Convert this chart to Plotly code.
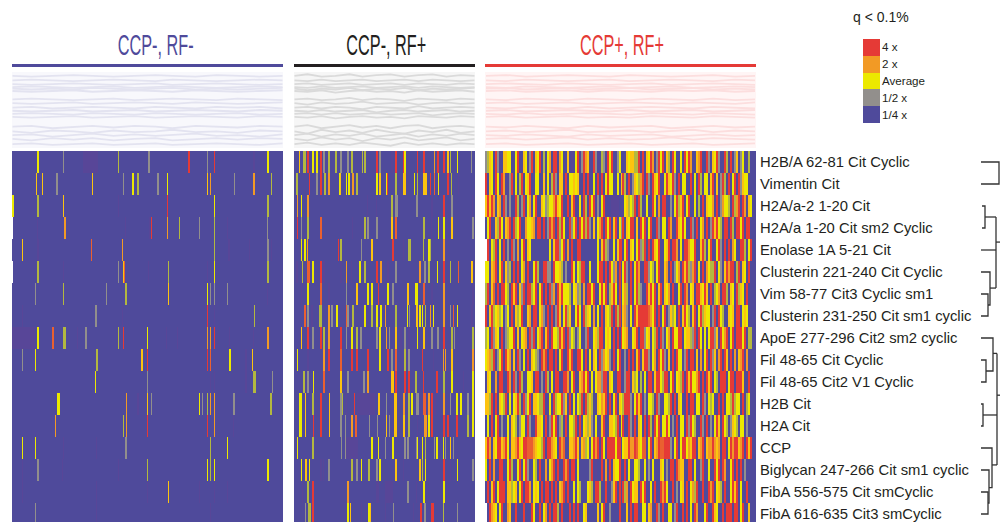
import re
import plotly.graph_objects as go

PANEL_TITLES = ["CCP-, RF-", "CCP-, RF+", "CCP+, RF+"]
PANEL_COLORS = ["#4f4a9b", "#231f20", "#e53a36"]
TITLE_ANCHORS = [0.528, 0.511, 0.5055]
ROW_LABELS = ["H2B/A 62-81 Cit Cyclic", "Vimentin Cit", "H2A/a-2 1-20 Cit", "H2A/a 1-20 Cit sm2 Cyclic",
              "Enolase 1A 5-21 Cit", "Clusterin 221-240 Cit Cyclic", "Vim 58-77 Cit3 Cyclic sm1",
              "Clusterin 231-250 Cit sm1 cyclic", "ApoE 277-296 Cit2 sm2 cyclic", "Fil 48-65 Cit Cyclic",
              "Fil 48-65 Cit2 V1 Cyclic", "H2B Cit", "H2A Cit", "CCP", "Biglycan 247-266 Cit sm1 cyclic",
              "FibA 556-575 Cit smCyclic", "FibA 616-635 Cit3 smCyclic"]
LEGEND_LABELS = ["1/4 x", "1/2 x", "Average", "2 x", "4 x"]
LEGEND_VALUES = [-2, -1, 0, 1, 2]

# log2 level of each code letter
LEVELS = {"b": -2, "p": -1.8, "g": -1, "l": -0.4, "y": 0, "a": 0.5, "o": 1, "e": 1.5, "r": 2, "w": None}
SCALE = [[0, "#4f4a9b"], [0.05, "#584698"], [0.25, "#928f8c"], [0.4, "#b3b83f"], [0.5, "#ece900"],
         [0.625, "#fcc30f"], [0.75, "#f29a25"], [0.875, "#ea6030"], [1, "#e53a36"]]

N1, N2, N3 = 271, 181, 136

# panel 1 & 2: sample index, level letter, run length
P1_STRIPES = [
    "71p15 25y2 51g1 106l1 136g2 176r2 195g1 202r1 241p2 255y2",
    "24a1 30a1 44g2 80a1 111g1 120y2 125l2 145g2 155y1 195a1 198o1 222g1 241o2 259l1",
    "0y2 25l2 51a1 106p1 155r1 202y1 255l2",
    "0w1 25p1 52o2 113p1 137p1 139r1 155o1 167l1 187g1 198p1 202l1 215p1 255g1",
    "10a1 25p2 79e1 110o1 202l1 216p2 237p1 255g2 259p1",
    "0w1 25l2 51p1 106g1 111a1 112e1 136p1 156l1 195p1 202y1 255l2",
    "23g1 51l1 94g1 113l2 156a1 195y1 198g1 202g1 215g1 255p1",
    "10p1 83g2 110p1 195r1 202p1 242l1",
    "0p23 25y2 40e2 51l3 65p1 73g2 106l1 111r1 135y1 154p1 165p1 195o1 198o1 202r1 217p1 241p1 255o2",
    "10g1 23y1 84l2 129a2 135r1 195r1 198e1 217y2 233p2 240a1",
    "83y1 135g1 198p1 202p1 233p2 241l3 260g1",
    "45y3 114o1 125p2 135a1 139g1 187y1 190g1 195l1 198o1 202o1 221g2 258l2",
    "43o1 111l1 114o1 135r1 195r1 202o1 221p1",
    "10y1 23y1 51p1 84p1 113g2 198l1 215y1",
    "10p1 25g2 50p1 106p1 135l1 195y1 198l1 202y1 255y2",
    "10p1 84p1 135p1 156a1 187p1 202p1 215p1",
    "23g1 84p1 198p1",
]
P2_STRIPES = [
    "5a1 9l3 13r2 18y2 22y2 26r2 29g2 34l2 41l2 46g2 53g2 57l2 68l1 70l2 82r2 85g2 97p2 101r2 109r1 110y2 123r1 129r2 140o1 143r2 149r2 153a2 156l1 163y1 177g1",
    "2l2 15r1 22g2 26r2 30l2 34o2 45y2 46a1 52y1 54y2 58o2 62l2 82y2 85a2 92y1 93r1 101l2 109a3 120y1 123l1 129a4 136r1 140e1 144y1 153r2 157l1 164p1",
    "3o1 7y1 13o2 73p1 82p1 97l2 101g3 122g2 137p2 149r2 157g2 178p1",
    "3r1 7g1 13l2 26e2 58p1 70l2 73g2 82g2 97a2 101e2 129l2 137p1 144y1 149y2 157a2 178g2",
    "7y1 10y2 13o1 44r1 46l2 67g1 77a2 98r2 109p1 114l3 129l1 134y2 136l1 149o2",
    "2p2 8l1 13e3 18y2 26r2 29p2 46p2 52o1 57p1 65y2 70l2 82r2 86o2 93p2 101g2 125o2 130g2 134l2 143y1 149r2 156l1 164e1 177a2",
    "7p1 13y2 26e2 34p2 52g1 62a2 73y2 77y2 84r1 93y2 98g2 113a2 121y3 129e2 137p2 149o2 178p2",
    "10e2 13g2 17p2 25l3 34o2 37g2 42y2 52e1 53g2 58l2 70y2 77l2 82y2 86y2 91o1 101l2 113y1 115g1 122a2 125y2 128y1 131l1 136o1 139y1 149o2 156g1 159e1 163y1 177p2",
    "7a1 13r2 18g2 26r2 29l2 34o2 46r2 52g1 57y2 62l2 66g2 82g2 85y2 92o1 95g1 101a2 106p2 110g2 114p2 123y1 129a2 137g2 143g2 149r2 157l2 160g1 178l2",
    "3y1 13p2 29o2 34r2 46e2 57r2 62r2 73r2 85y2 93r2 97g2 101e2 110l2 114g2 128r1 139p1 149o1 151o1 157a2 178o2",
    "9l2 13g2 19y1 29e2 34p2 46a2 53g2 69g2 73o2 97a3 101r2 110r2 114r2 121l2 129r1 142r2 149l2 157y2 169p1 178y2",
    "5y3 11a1 18l2 26r2 35a1 46g2 48l1 52p1 60r1 63p18 84a2 92g1 100a3 109o2 114l2 117y2 122g3 129e3 134o2 137r2 140p2 149o2 156g1 162y2 166y2 173g2 178y2",
    "5y3 11a1 19r1 26r2 35a1 46g2 51g1 57o2 61e2 75g1 83g1 92a1 95g1 100a3 109a2 114l2 123p1 130o3 134y2 137r2 149r2 153r2 162r2 173l2 178y2",
    "3y1 18l2 47g1 51g1 52p12 77y2 84y1 91g1 98y2 110g2 113g2 122g2 123y1 128y1 131l1 140g1 142y2 149y1 151g1 156a1 159g1",
    "7y1 11a2 15y1 26p2 29p1 34g2 57l2 62g2 67y1 74l2 82g2 85y2 101a2 109p1 125a2 128l1 131y1 149r2 156p1 163y1 178g2",
    "8p1 13l2 18r2 53o2 82p3 91p8 113g2 122p1 129y2 149y2",
    "11g1 14l3 18r2 53y2 56a1 67p1 74y2 76a1 91p1 99g1 119p1 126r2 130g2 137r3 149l1 163g1",
]
# panel 3: one letter per sample
P3_ROWS = [
    "glaybrgbbaayybbyrbbaybgrbayrblbyobrrboybbabpbyrbgroabbrgbblgbryrbbgybbbayaallrbrbayrobgryrbalbrybbybryrobbaorbbrgbayrgbbrlbrbgabgybbl",
    "rbaybrybrobbgrbyblrbyarbbyybbabyblrgbaabrbyyayabbrbrbbybrbrbyryybbybarlbrbgaylorbrgbrayrbbyrayrgbrbyybbrbybrlbyybarbabgrlbrbyrbrgayyb",
    "ararobaobrgbgbbrlbgrbyobyrbbayglyyorayrbbrbarbbybrlbryrbgbyrbbbppppbbbyalylrbrlbbybbrybobrrbbgbyrlarbyrbbyblbrbayyobrbgoyylbrlorbrobay",
    "byrbbalrybaorbrlyrbboyyaobrrbrbgrorbrlrybbrgyrbryrlrgbabyorbryrbarbygrbayrrbabryrbyrbbrgbyybrobbrayrybbrgbrbyobrbgrarylbrrbrlbrryrbrrb",
    "wrbylrbybrbgbrgbobyrbaybbbbbbbbbybarrgyrbobrbbrrbbbbbbbbybarlgbbybarrbyrbaybyrglrbrbrayrbbyarbrrobybrroyyrbbarlbyrbbyrgbrbrboybbrrlbyr",
    "yybaorbyrbaglbrbrbyobrbbyrlbbrrggbryyalbgbbrybylrrbbybbbyrrbrbrygobrbyrgbrbyrobbrrgylbyrbbaobrbgyobrarlgorbybrboyllrbygbarorrblrbaybrb",
    "lrbaebrbrrylbrarbagrbrrlyrbyrbrbrgobraryyylbyaglbobrryrbbyryrblarybrbyolbrbyrlgbbraryrbarbayobrbbyrbrobyabrrayrabrblyobrrlbaybrlaybrbb",
    "rbarlyalybgybrbalyrbbaobrrbyogbrbrbgrabyrlabbyrybrlaybobybrbaylrbrlrbaogbybrarrrrreoyrbrbyrbgalybrbarylbarbyrlayybgrbrylbbayabrrbyaybb",
    "lybrgaybrbglyyrbabyaobrgrbyorbarbryylrarbrgylbgybbgrbbyalrrbyaybrbrbryaobbyarbrrgyabylrbrgbyobryyrrbyaalgrbrybybyrrgabryorbyrbrrryrbll",
    "yaolrbgyrbraobabrgbybrbaylgbrorbrrbrbyrbbrarbbrrybrbybaybrgoyagbrbyrbbgbrbrbarbarrgbyobryrgbabrbryybgrbrrbabobyrbrgaborbrabrbobaorbob",
    "baybbobrrbbrobrgbrlbbyyabrrbgbrlbybrrbbrrobyrbbaoryrbybyoogrrbaybbrrbbgrrbalyblbybrrbarrylrrbyrbyalrbraryyorbrbrarbylbrrrbyrrbrrrabbrb",
    "aalrbrbaylrbybyarlbrgyrbaayllrbbybrlyyrgabrbybylrbrlalbbayoarbrbyrbaylrrrgbyrarbgbyylbrgbbyylrbrbaybbrbrrbyybrgbylybbrbrbyylrlyybrblyb",
    "bybrbyrbgbbybaylbgyybrgbbraaybrbgryrbglbrbyylrbrbyalagbybbarbbaaylrbyrbbrgbrbaybrbrlbryrbyyrybgbrbyybrgrylbbrgbrbgbyrabrylbgaylbyybgb",
    "arobayrraorybaaorayrreeeoayylrbrroaybroebbaaorabaolybyrorbrybrrrryrrbyaarooreayeebyrbaoreerrrgbyrbyrryoarrbaorbaooroaobrrbyrorraorbrar",
    "ybrbobbrrbbyrlbbyrbyrgbbylbrbbobyorbrbbrorbrrbybbbbbgrbpbbrbobrbayyrbbrbybbyylbbybgbybbbaybgbrrbroaabbrrbybbgrbbybbryrbrobbyrbrbrbgbbb",
    "brbarbyrrrbaalyabyrbrrobyaybrbrrbrbrbaorbrbbybylbbbyalbrrlbbrbbgarbrbrlobryaabryrbbybrbbrorybbrbgbyabrbyolrbbrbbrorbyalbrbbyrarbybbrbb",
    "wbroaybyrbboabbrbbbrbbbrybbrbyobrbrrlbrbbbrbrbrbbyabbbbbabyrbbgbbbbrbbbabrbrrbbyybaobbrgbrbbyybgrbbrbrbybrobbbyrbbraybbrbrrrbrrbyrbbab",
]

# profile lines above each heat map (arbitrary profile scale, 0 top to 100 bottom)
SPARK_X1 = [0, 19, 40, 61, 80, 101, 122, 143, 160, 183, 204, 225, 247, 270]
SPARK_X2 = [0, 13, 27, 41, 55, 68, 82, 96, 110, 124, 138, 152, 166, 180]
SPARK_X3 = [0, 10, 20, 30, 41, 51, 62, 72, 83, 93, 104, 114, 125, 135]
SPARK1 = [
    [5, 6, 5, 4, 5, 6, 5, 4, 5, 6, 4, 5, 6, 5], [11, 10, 11, 12, 11, 10, 11, 12, 10, 11, 12, 11, 10, 11],
    [16, 17, 16, 15, 16, 17, 16, 15, 17, 16, 15, 16, 17, 16], [20, 19, 20, 21, 20, 19, 21, 20, 19, 20, 21, 20, 19, 20],
    [22, 23, 22, 23, 21, 22, 23, 22, 21, 23, 22, 23, 22, 21], [25, 26, 25, 24, 26, 25, 24, 25, 26, 24, 25, 26, 25, 24],
    [36, 35, 36, 37, 36, 35, 37, 36, 35, 36, 37, 35, 36, 37], [41, 42, 41, 40, 42, 41, 40, 41, 42, 40, 41, 42, 41, 40],
    [47, 46, 48, 47, 46, 47, 48, 46, 47, 48, 46, 47, 46, 48], [51, 52, 51, 50, 52, 51, 50, 52, 51, 50, 51, 52, 50, 51],
    [55, 54, 55, 56, 54, 55, 56, 54, 55, 56, 55, 54, 56, 55], [59, 60, 59, 58, 60, 59, 58, 60, 59, 58, 59, 60, 58, 59],
    [72, 71, 74, 72, 71, 73, 71, 72, 74, 71, 72, 73, 71, 72], [78, 80, 77, 78, 80, 77, 79, 78, 76, 79, 78, 80, 77, 78],
    [83, 82, 85, 83, 81, 84, 82, 84, 83, 81, 84, 83, 85, 82], [88, 90, 87, 89, 87, 90, 88, 87, 90, 88, 87, 89, 87, 88],
    [95, 94, 96, 95, 94, 96, 95, 94, 96, 95, 94, 95, 96, 94],
]
SPARK2 = [
    [5, 3, 6, 5, 3, 6, 4, 3, 6, 4, 3, 6, 4, 5], [11, 12, 10, 12, 11, 10, 12, 11, 10, 12, 10, 11, 12, 11],
    [16, 15, 17, 16, 15, 17, 16, 15, 17, 15, 16, 17, 15, 16], [20, 21, 19, 21, 20, 19, 21, 20, 19, 21, 19, 20, 21, 20],
    [22, 24, 22, 23, 21, 24, 22, 23, 21, 24, 22, 23, 22, 21], [25, 26, 24, 27, 25, 24, 26, 25, 27, 24, 26, 25, 24, 26],
    [36, 35, 37, 36, 34, 37, 35, 36, 38, 35, 36, 37, 35, 36], [41, 43, 40, 42, 41, 39, 42, 41, 40, 43, 41, 40, 42, 41],
    [47, 46, 48, 46, 47, 49, 46, 47, 48, 45, 48, 47, 46, 47], [51, 52, 50, 52, 51, 50, 53, 51, 50, 52, 51, 50, 52, 51],
    [55, 54, 56, 54, 56, 55, 54, 56, 55, 54, 57, 55, 54, 55], [59, 60, 58, 61, 59, 58, 60, 59, 61, 58, 59, 60, 58, 59],
    [72, 70, 74, 72, 70, 73, 71, 74, 71, 70, 74, 72, 71, 73], [78, 81, 76, 79, 77, 80, 76, 79, 81, 77, 79, 76, 80, 78],
    [83, 81, 85, 82, 84, 81, 85, 83, 81, 85, 82, 84, 81, 83], [88, 90, 86, 89, 87, 91, 87, 89, 86, 90, 88, 86, 90, 88],
    [95, 93, 96, 94, 96, 93, 95, 97, 93, 96, 94, 96, 94, 95],
]
SPARK3 = [
    [5, 4, 6, 5, 4, 5, 6, 4, 5, 6, 5, 4, 6, 5], [11, 12, 10, 11, 12, 11, 10, 12, 11, 10, 11, 12, 10, 11],
    [16, 15, 16, 17, 15, 16, 17, 16, 15, 17, 16, 15, 16, 17], [20, 21, 19, 20, 21, 20, 19, 21, 20, 19, 21, 20, 19, 20],
    [22, 21, 23, 22, 21, 23, 22, 21, 23, 22, 21, 23, 22, 23], [25, 24, 26, 25, 24, 26, 24, 25, 26, 24, 25, 24, 26, 25],
    [36, 37, 35, 36, 37, 35, 36, 37, 35, 36, 37, 35, 37, 36], [41, 40, 42, 41, 40, 42, 41, 40, 41, 42, 40, 41, 42, 40],
    [47, 48, 46, 47, 48, 46, 48, 47, 46, 47, 48, 46, 47, 48], [51, 50, 52, 51, 50, 51, 52, 50, 52, 51, 50, 52, 51, 50],
    [55, 56, 54, 56, 55, 54, 55, 56, 54, 55, 56, 54, 55, 56], [59, 58, 60, 59, 58, 60, 59, 60, 58, 59, 60, 58, 59, 60],
    [72, 73, 71, 72, 74, 71, 73, 72, 71, 74, 72, 71, 73, 72], [78, 77, 79, 78, 76, 79, 78, 77, 79, 78, 76, 79, 77, 78],
    [83, 84, 82, 83, 85, 82, 84, 83, 82, 85, 83, 82, 84, 83], [88, 87, 89, 88, 86, 89, 87, 89, 88, 86, 89, 87, 88, 89],
    [95, 94, 96, 95, 94, 96, 95, 94, 96, 95, 94, 96, 95, 94],
]
SPARK_LINE = ["#e3e3f0", "#dadada", "#fcdede"]
SPARK_BG = ["#f8f8fc", "#f6f6f6", "#fff5f5"]

# dendrogram: merge distance (left to right) and row position
DEND_X = [0, 18, 18, 0, None,
          1, 4, 4, 1, None, 4, 15, None, 0, 15, None, 15, 15, None, 15, 19, None, 9, 15, None,
          0, 9, 9, 7, None, 0, 7, 7, 0, None,
          0, 12, 12, 5, None, 0, 5, 5, 0, None, 12, 16, None, 16, 16, None, 16, 19, None,
          0, 2, 2, 0, None, 2, 16, None, 0, 11, 11, 8, None, 11, 16, None,
          0, 8, 8, 7, None, 0, 7, 7, 0]
DEND_Y = [0, 0, 1, 1, None,
          2, 2, 3, 3, None, 2.5, 2.5, None, 4, 4, None, 2.5, 5.73, None, 3.64, 3.64, None, 5.73, 5.73, None,
          5, 5, 6.5, 6.5, None, 6, 6, 7, 7, None,
          8, 8, 9.5, 9.5, None, 9, 9, 10, 10, None, 8.7, 8.7, None, 8.7, 13.77, None, 10.6, 10.6, None,
          11, 11, 12, 12, None, 11.5, 11.5, None, 13, 13, 14.8, 14.8, None, 13.77, 13.77, None,
          14, 14, 15.5, 15.5, None, 15, 15, 16, 16]


def stripes_to_row(text, n):
    cells = [LEVELS["b"]] * n
    for start, code, run in re.findall(r"(\d+)([a-z])(\d+)", text):
        for i in range(int(start), min(n, int(start) + int(run))):
            cells[i] = LEVELS[code]
    return cells


def letters_to_row(text, n):
    return [LEVELS[c] for c in text.ljust(n, "b")[:n]]


Z1 = [stripes_to_row(t, N1) for t in P1_STRIPES]
Z2 = [stripes_to_row(t, N2) for t in P2_STRIPES]
Z3 = [letters_to_row(t, N3) for t in P3_ROWS]

W, H = 1000, 522


def fx(a, b):
    return [a / W, b / W]


def fy(top, bottom):
    return [1 - bottom / H, 1 - top / H]


fig = go.Figure()
common = dict(colorscale=SCALE, zmin=-2, zmax=2, showscale=False, hoverongaps=False)
rows = list(range(len(ROW_LABELS)))
fig.add_trace(go.Heatmap(z=Z1, y=rows, xaxis="x", yaxis="y", **common))
fig.add_trace(go.Heatmap(z=Z2, y=rows, xaxis="x2", yaxis="y", **common))
fig.add_trace(go.Heatmap(z=Z3, y=rows, xaxis="x3", yaxis="y", **common))

for table, xs, col, ax in [(SPARK1, SPARK_X1, SPARK_LINE[0], "x"), (SPARK2, SPARK_X2, SPARK_LINE[1], "x2"),
                           (SPARK3, SPARK_X3, SPARK_LINE[2], "x3")]:
    for line in table:
        fig.add_trace(go.Scatter(x=xs, y=line, mode="lines", xaxis=ax, yaxis="y2",
                                 line=dict(color=col, width=1.8), showlegend=False, hoverinfo="skip"))

fig.add_trace(go.Scatter(x=DEND_X, y=DEND_Y, mode="lines", xaxis="x4", yaxis="y", connectgaps=False,
                         line=dict(color="#333333", width=1.3), showlegend=False, hoverinfo="skip"))

fig.add_trace(go.Heatmap(z=[[v] for v in LEGEND_VALUES], y=list(range(5)), xaxis="x5", yaxis="y3", **common))

hidden = dict(visible=False, showgrid=False, zeroline=False, fixedrange=True)
layout = dict(
    width=W, height=H, autosize=False, margin=dict(l=0, r=0, t=0, b=0, pad=0),
    paper_bgcolor="white", plot_bgcolor="rgba(0,0,0,0)", showlegend=False,
    font=dict(family="Liberation Sans", color="#231f20"),
    xaxis=dict(domain=fx(12, 283), range=[-0.5, N1 - 0.5], anchor="y", **hidden),
    xaxis2=dict(domain=fx(294, 475), range=[-0.5, N2 - 0.5], anchor="y", **hidden),
    xaxis3=dict(domain=fx(485, 756), range=[-0.5, N3 - 0.5], anchor="y", **hidden),
    xaxis4=dict(domain=fx(981, 1000), range=[0, 19], anchor="y", **hidden),
    xaxis5=dict(domain=fx(863, 880), range=[-0.5, 0.5], anchor="y3", **hidden),
    yaxis=dict(domain=fy(151, 522), range=[16.364, -0.5], anchor="x3", side="right",
               tickmode="array", tickvals=rows, ticktext=ROW_LABELS, ticks="", ticklen=0,
               ticklabelstandoff=3, ticklabeloverflow="allow",
               tickfont=dict(size=14.8, family="Liberation Sans", color="#231f20"),
               showgrid=False, zeroline=False, showline=False, fixedrange=True),
    yaxis2=dict(domain=fy(72, 148), range=[100, 0], anchor="x", **hidden),
    yaxis3=dict(domain=fy(39, 123), range=[-0.5, 4.5], anchor="x5", side="right",
                tickmode="array", tickvals=list(range(5)), ticktext=LEGEND_LABELS, ticks="", ticklen=0,
                ticklabelstandoff=1,
                tickfont=dict(size=11.6, family="Liberation Sans", color="#231f20"),
                showgrid=False, zeroline=False, showline=False, fixedrange=True),
    annotations=[
        dict(text="q < 0.1%", xref="paper", yref="paper", x=880.5 / W, y=1 - 17 / H, showarrow=False,
             xanchor="center", yanchor="middle", font=dict(size=14, family="Liberation Sans", color="#231f20")),
    ],
    shapes=[],
)
for i, (name, col, ax) in enumerate(zip(PANEL_TITLES, PANEL_COLORS, ["x", "x2", "x3"])):
    layout["annotations"].append(dict(text=name, xref=ax + " domain", yref="paper", x=TITLE_ANCHORS[i], y=1 - 45 / H,
                                      xanchor="center", yanchor="middle", showarrow=False,
                                      font=dict(size=29, family="Liberation Sans", color=col)))
    layout["shapes"].append(dict(type="rect", xref=ax + " domain", yref="paper", x0=0, x1=1,
                                 y0=1 - 67 / H, y1=1 - 64 / H, fillcolor=col, line=dict(width=0)))
    layout["shapes"].append(dict(type="rect", xref=ax + " domain", yref="y2 domain", x0=0, x1=1, y0=0, y1=1,
                                 fillcolor=SPARK_BG[i], line=dict(width=0), layer="below"))
fig.update_layout(**layout)

# The panel titles in the reference are set in a condensed face: narrow them, keeping them real text.
SQUEEZE = """
document.body.style.margin='0';
var gd=document.getElementById('{plot_id}');
function squeeze(){
  gd.querySelectorAll('.annotation-text').forEach(function(t){
    if(t.textContent.indexOf('RF')<0) return;
    t.removeAttribute('transform');
    var b=t.getBBox(), c=b.x+b.width/2;
    t.setAttribute('transform','translate('+c+',0) scale(0.56,1) translate('+(-c)+',0)');
  });
}
squeeze();
gd.on('plotly_afterplot',squeeze);
"""
fig.write_html("out.html", post_script=SQUEEZE, config={"displayModeBar": False})
